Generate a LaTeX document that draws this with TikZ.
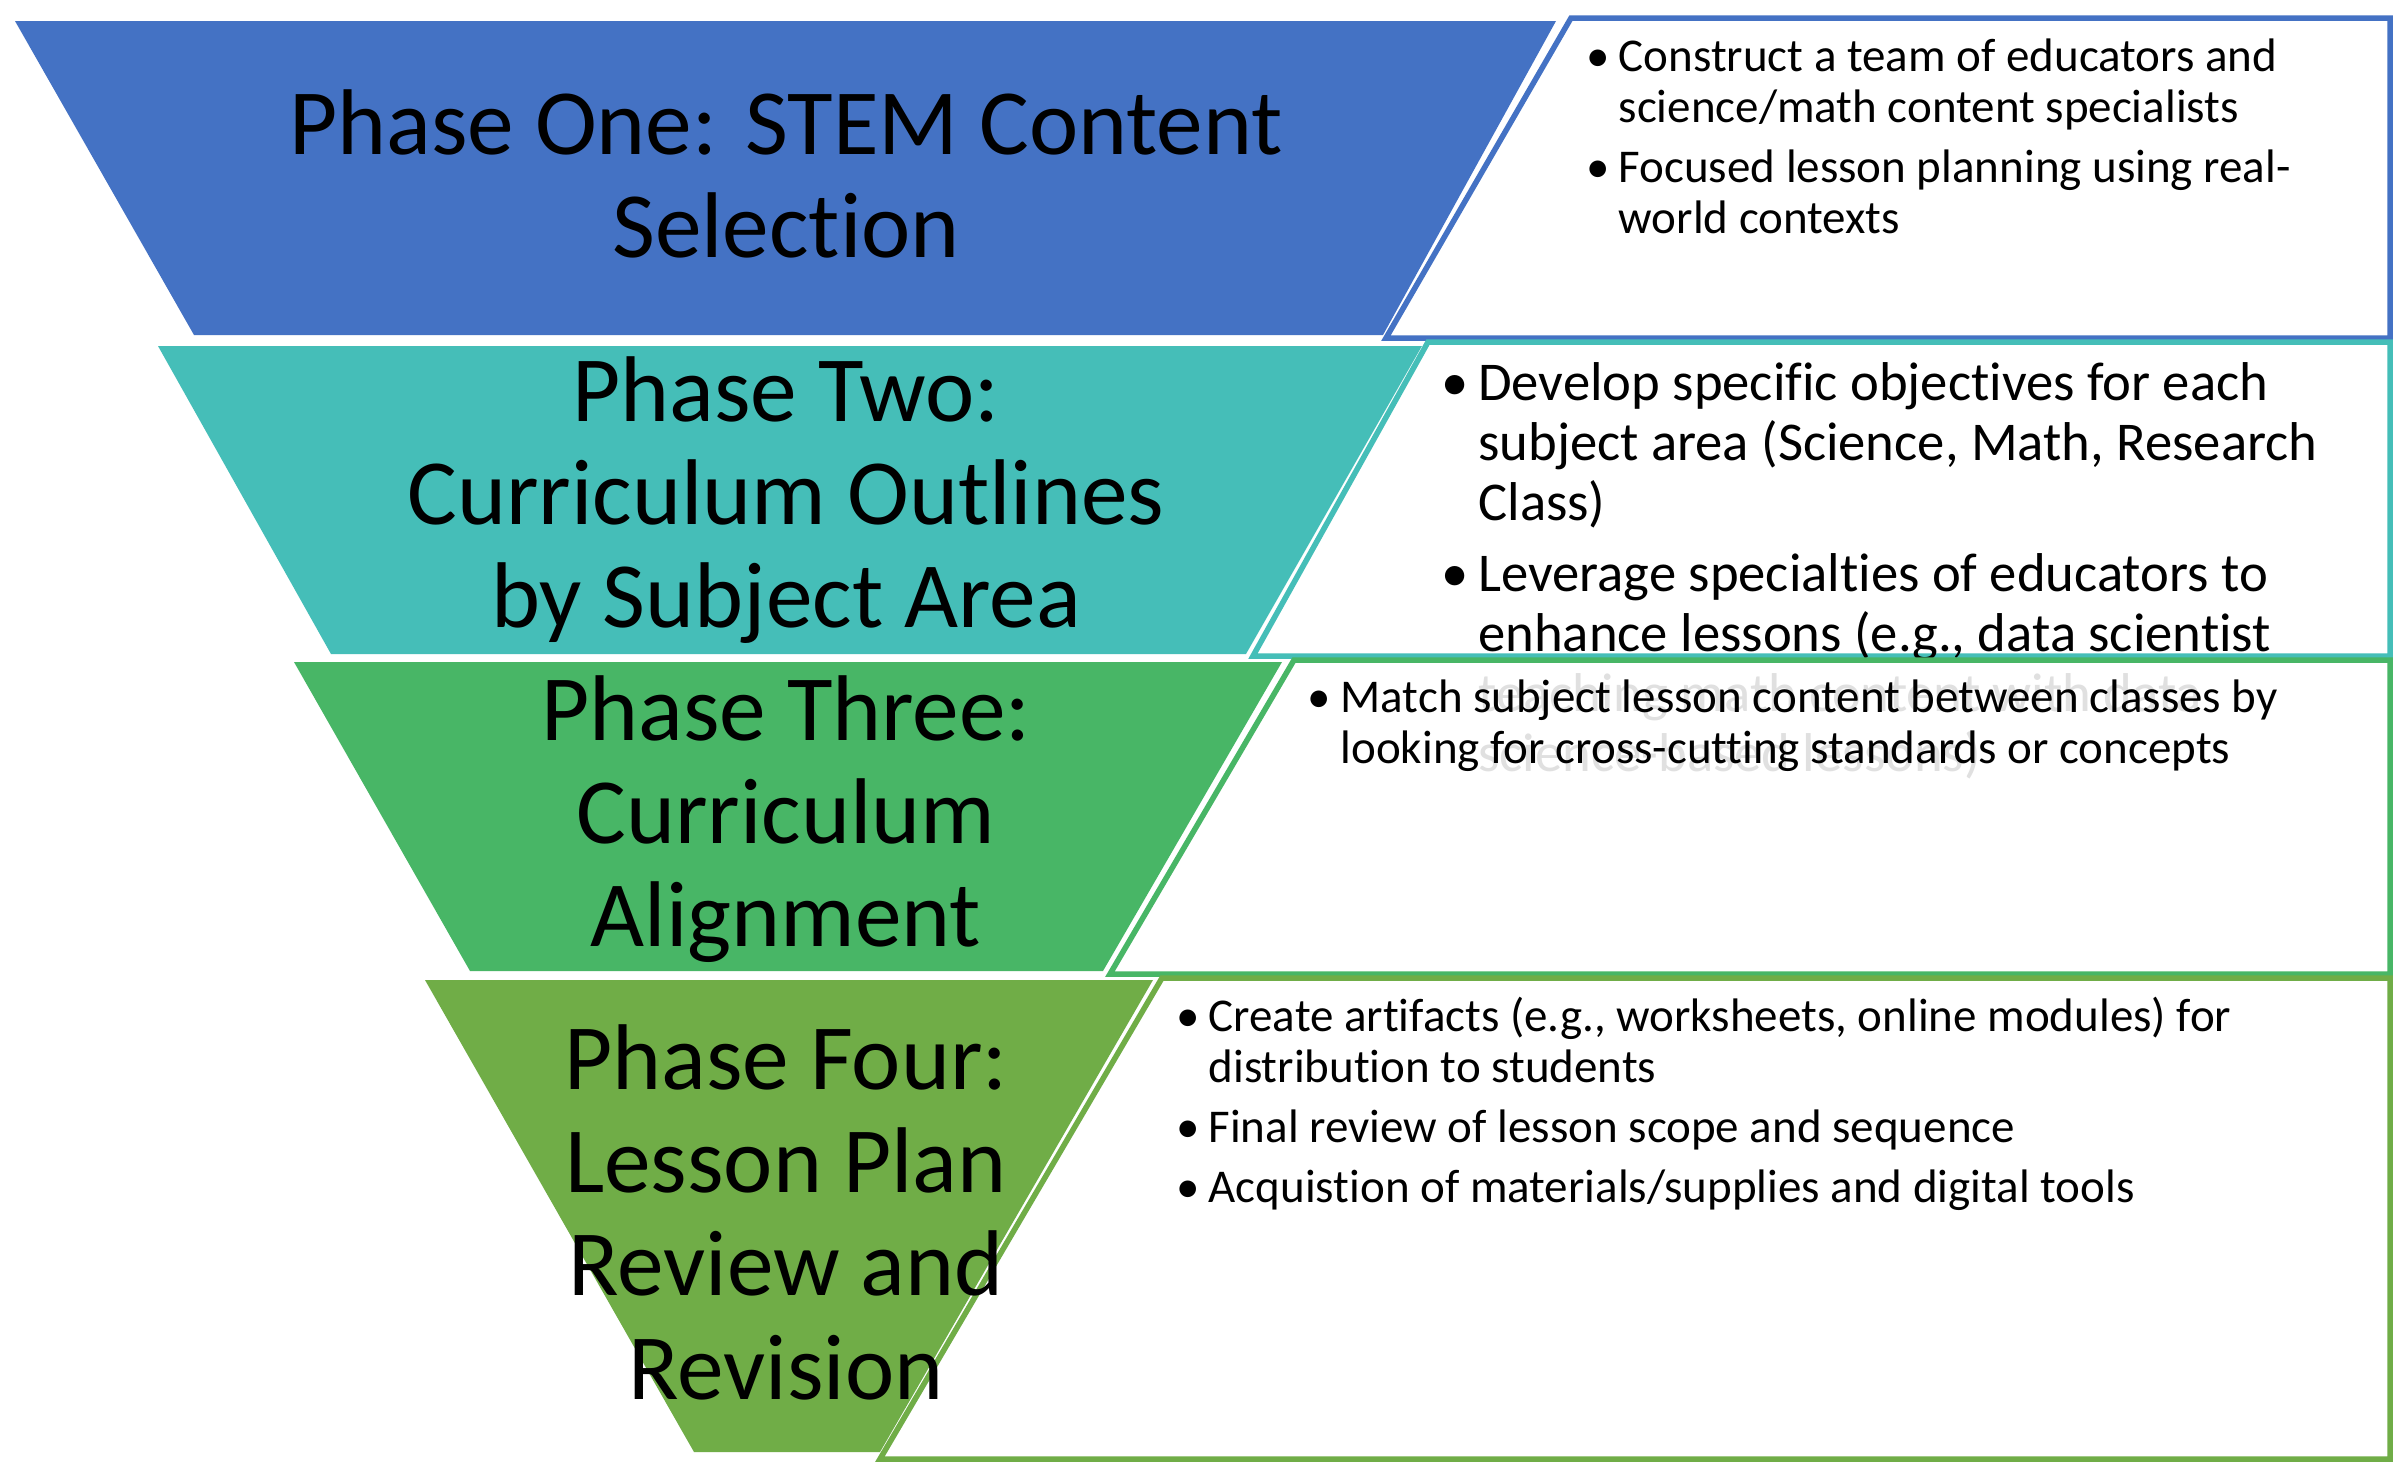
\documentclass[tikz,border=0pt]{standalone}
\usepackage{fontspec}
\setmainfont{Carlito}[Ligatures={NoCommon,NoContextual}]
\definecolor{pblue}{HTML}{4472C4}
\definecolor{pteal}{HTML}{45BEB8}
\definecolor{pgreen}{HTML}{48B666}
\definecolor{polive}{HTML}{70AD47}
\newcommand{\bul}[2]{\par\noindent\hangindent=#1\hangafter=1\makebox[#1][l]{\textbullet}#2\par}
\newcommand{\smallbody}{\fontsize{14.1}{15.3}\selectfont\setlength{\parskip}{2.8pt}\raggedright}
\newcommand{\bigbody}{\fontsize{16.4}{18}\selectfont\setlength{\parskip}{3.3pt}\raggedright}
\newcommand{\titlefont}{\fontsize{28}{31}\selectfont}
\begin{document}
\begin{tikzpicture}[x=0.3pt,y=-0.3pt,
  infobox/.style={line width=1.65pt, fill=white},
  title/.style={anchor=base, inner sep=0pt},
  bullets/.style={anchor=base west, inner sep=0pt}]
\useasboundingbox[fill=white] (0,0) rectangle (2408,1478);
% funnel sections
\fill[pblue]  (15,21) -- (1556,21) -- (1383,335) -- (194,335) -- cycle;
\fill[pteal]  (158,346) -- (1422,346) -- (1246,654) -- (331,654) -- cycle;
\fill[pgreen] (294,662) -- (1282,662) -- (1103,971) -- (470,971) -- cycle;
\fill[polive] (425,980) -- (1153,980) -- (880,1452) -- (694,1452) -- cycle;
% box 1
\draw[infobox, draw=pblue] (1571,18) -- (2390,18) -- (2390,338) -- (1386,338) -- cycle;
\node[bullets] (b1) at (1586,71) {\begin{minipage}[t]{330pt}\smallbody
\bul{9.6pt}{Construct a team of educators and\newline science/math content specialists}
\bul{9.6pt}{Focused lesson planning using real-\newline world contexts}
\end{minipage}};
% box 2
\draw[infobox, draw=pteal] (1428,342) -- (2390,342) -- (2390,656) -- (1253,656) -- cycle;
\node[bullets] (b2) at (1441,400) {\begin{minipage}[t]{330pt}\bigbody
\bul{11pt}{Develop specific objectives for each\newline subject area (Science, Math, Research\newline Class)}
\bul{11pt}{Leverage specialties of educators to\newline enhance lessons (e.g., data scientist\newline teaching math content with data\newline science-based lessons)}
\end{minipage}};
% box 3 (partly covers overflowing text of box 2)
\fill[white, fill opacity=0.88] (1294,660) -- (2390,660) -- (2390,974) -- (1110,974) -- cycle;
\draw[line width=1.65pt, draw=pgreen] (1294,660) -- (2390,660) -- (2390,974) -- (1110,974) -- cycle;
\node[bullets] (b3) at (1307,712) {\begin{minipage}[t]{360pt}\smallbody
\bul{9.9pt}{Match subject lesson content between classes by\newline looking for cross-cutting standards or concepts}
\end{minipage}};
% box 4
\draw[infobox, draw=polive] (1162,978) -- (2390,978) -- (2390,1459) -- (880,1459) -- cycle;
\node[bullets] (b4) at (1176,1031) {\begin{minipage}[t]{360pt}\smallbody
\bul{9.6pt}{Create artifacts (e.g., worksheets, online modules) for\newline distribution to students}
\bul{9.6pt}{Final review of lesson scope and sequence}
\bul{9.6pt}{Acquistion of materials/supplies and digital tools}
\end{minipage}};
% titles
\node[title] (t1) at (786,154) {\begin{minipage}[t]{400pt}\centering\titlefont Phase One: STEM Content\\Selection\end{minipage}};
\node[title] (t2) at (786,421) {\begin{minipage}[t]{400pt}\centering\titlefont Phase Two:\\Curriculum Outlines\\by Subject Area\end{minipage}};
\node[title] (t3) at (786,740) {\begin{minipage}[t]{400pt}\centering\titlefont Phase Three:\\Curriculum\\Alignment\end{minipage}};
\node[title] (t4) at (786,1089) {\begin{minipage}[t]{400pt}\centering\titlefont Phase Four:\\Lesson Plan\\Review and\\Revision\end{minipage}};
\end{tikzpicture}
\end{document}
